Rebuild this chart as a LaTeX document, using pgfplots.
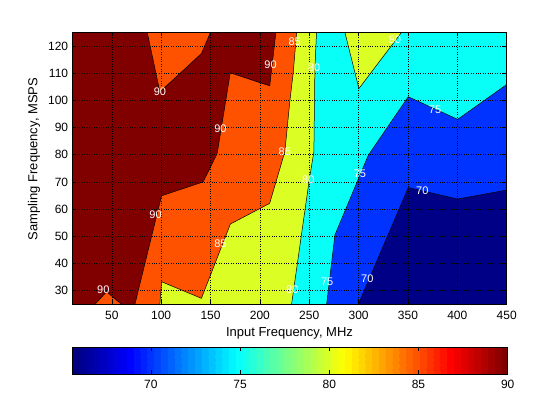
\documentclass[border=0pt]{standalone}
\usepackage{pgfplots}
\pgfplotsset{compat=1.18}
\usepackage{fontspec}
\setmainfont{Liberation Sans}
\definecolor{cNavy}{rgb}{0,0,0.53}
\definecolor{cBlue}{rgb}{0,0.2,1}
\definecolor{cCyan}{rgb}{0.03,1,0.97}
\definecolor{cYellow}{rgb}{0.86,1,0.14}
\definecolor{cOrange}{rgb}{1,0.32,0}
\definecolor{cDark}{rgb}{0.5,0,0}
\pgfplotsset{colormap/jet}
\pgfplotsset{colormap={jetsixtyfour}{samples of colormap=(64 of jet)}}
\begin{document}
\begin{tikzpicture}
\useasboundingbox (0,0) rectangle (560pt,420pt);
\begin{axis}[
  at={(72.3pt,115.7pt)}, anchor=south west,
  scale only axis, width=434.4pt, height=272pt,
  xmin=10, xmax=450, ymin=25, ymax=125,
  xtick={50,100,...,450}, ytick={30,40,...,120},
  tick align=inside, major tick length=4pt,
  tick style={black, line width=0.5pt},
  grid=major, major grid style={black, dotted, line width=0.5pt},
  axis on top, axis line style={black, line width=0.6pt},
  /pgf/number format/assume math mode=true,
  tick label style={font=\fontsize{12}{14}\selectfont},
  xticklabel style={inner sep=0pt, anchor=north, yshift=-7pt},
  yticklabel style={inner sep=0pt, anchor=east, xshift=-4pt},
  xlabel={Input Frequency, MHz},
  ylabel={Sampling Frequency, MSPS},
  xlabel style={at={(axis description cs:0.5,-0.086)}, anchor=north, inner sep=0pt, font=\fontsize{13}{15}\selectfont},
  ylabel style={at={(axis description cs:-0.1027,0.534)}, anchor=north, inner sep=0pt, font=\fontsize{13}{15}\selectfont},
  colormap name=jetsixtyfour, colormap access=piecewise constant,
  point meta min=65.6, point meta max=90,
  colorbar horizontal,
  colorbar style={
    at={(parent axis.south west)}, anchor=north west, yshift=-34pt,
    scale only axis, width=435.4pt, height=27pt,
    xtick={70,75,80,85,90},
    xtick pos=both, xticklabel pos=left,
    tick align=inside, major tick length=4pt,
    tick style={black, line width=0.5pt},
    axis line style={black, line width=0.6pt},
    /pgf/number format/assume math mode=true,
    tick label style={font=\fontsize{12}{14}\selectfont},
    xticklabel style={inner sep=0pt, anchor=north, yshift=-6.4pt},
  },
]
% base (< 70)
\addplot[fill=cNavy, draw=none] coordinates {(10,25) (450,25) (450,125) (10,125)} -- cycle;
% >= 70
\addplot[fill=cBlue, draw=black, line width=0.5pt] coordinates {
(10,25) (299.7,25) (350.3,67.9) (400.3,63.7) (450,67) (450,125) (10,125)} -- cycle;
% >= 75
\addplot[fill=cCyan, draw=black, line width=0.5pt] coordinates {
(10,25) (267.6,25) (276,50.5) (309.8,79.8) (350.3,101.3) (400.3,93) (450,105.8) (450,125) (10,125)} -- cycle;
% >= 80
\addplot[fill=cYellow, draw=black, line width=0.5pt] coordinates {
(10,25) (232.1,25) (250,70.7) (254.7,81.1) (255.7,111.7) (257.4,125) (10,125)} -- cycle;
\addplot[fill=cYellow, draw=black, line width=0.5pt] coordinates {
(286.1,125) (300.3,104.3) (343.6,125)} -- cycle;
% >= 85
\addplot[fill=cOrange, draw=black, line width=0.5pt] coordinates {
(10,25) (98.7,25) (100.4,33.3) (140.8,27.2) (170.1,54.5) (209.9,62.1) (225.3,81.1) (230.4,99.8) (233.8,110.2) (237.2,125) (10,125)} -- cycle;
% >= 90
\addplot[fill=cDark, draw=black, line width=0.5pt] coordinates {
(10,25) (32.9,25) (44.7,29.6) (59.9,25) (73.4,25) (100.4,64.9) (142.5,70) (156.7,80.4) (170,110.1) (210,105.3) (216.2,125) (150,125) (140.8,117.2) (120.6,110.4) (98.7,103.1) (85.9,125) (10,125)} -- cycle;
% contour labels
\addplot[draw=none, mark=none, nodes near coords, point meta=explicit symbolic,
  every node near coord/.style={white, anchor=center, inner sep=0pt, font=\fontsize{11}{12}\selectfont}]
  table[meta=l] {
x y l
98.7 103.1 90
210.8 112.9 90
235.3 121.5 85
160 89.4 90
225.2 81.0 85
249 70.7 80
94.3 57.8 90
160 47.1 85
41.4 30.3 90
232.8 30.3 80
255 112.0 80
336.8 122.1 80
377.4 96.7 75
301.4 73.1 75
364.5 66.7 70
268.2 33.3 75
308.8 34.3 70
};
\end{axis}
\end{tikzpicture}
\end{document}
